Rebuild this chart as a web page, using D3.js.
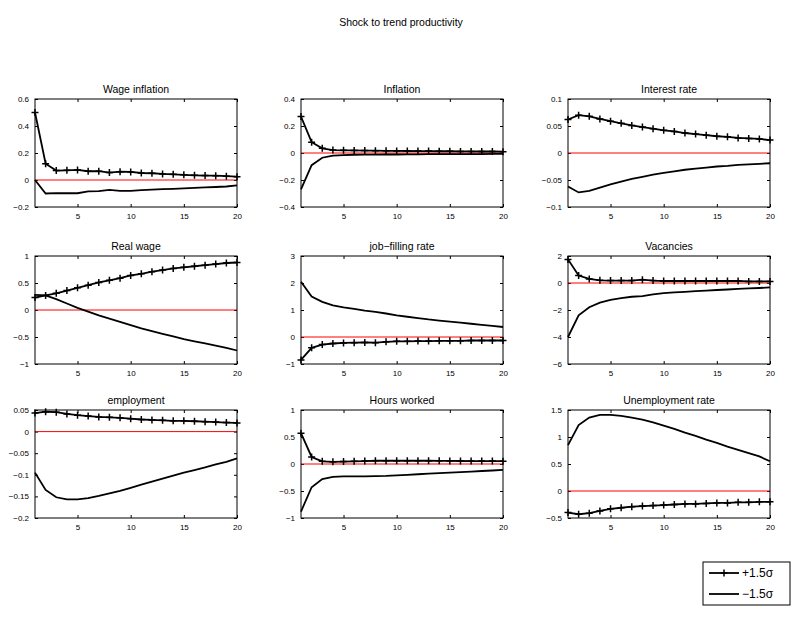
<!DOCTYPE html>
<html>
<head>
<meta charset="utf-8">
<script src="https://cdn.jsdelivr.net/npm/d3@7"></script>
<style>
  body { margin: 0; background: #fff; }
  svg { font-family: "Liberation Sans", Arial, sans-serif; }
</style>
</head>
<body>
<div id="chart"></div>
<script>
// Periods after the shock
const periods = d3.range(1, 21);
const xTicks = [5, 10, 15, 20];

// Panel titles and y ranges / ticks (row by row)
const titles = ["Wage inflation", "Inflation", "Interest rate",
                "Real wage", "job\u2212filling rate", "Vacancies",
                "employment", "Hours worked", "Unemployment rate"];
const yDomains = [[-0.2, 0.6], [-0.4, 0.4], [-0.1, 0.1],
                  [-1, 1], [-1, 3], [-6, 2],
                  [-0.2, 0.05], [-1, 1], [-0.5, 1.5]];
const yTicks = [[-0.2, 0, 0.2, 0.4, 0.6], [-0.4, -0.2, 0, 0.2, 0.4], [-0.1, -0.05, 0, 0.05, 0.1],
                [-1, -0.5, 0, 0.5, 1], [-1, 0, 1, 2, 3], [-6, -4, -2, 0, 2],
                [-0.2, -0.15, -0.1, -0.05, 0, 0.05], [-1, -0.5, 0, 0.5, 1], [-0.5, 0, 0.5, 1, 1.5]];

// +1.5 sigma responses (marked line)
const plusShock = [
  [0.50, 0.12, 0.07, 0.072, 0.075, 0.065, 0.065, 0.055, 0.062, 0.06, 0.052, 0.05, 0.045, 0.042, 0.038, 0.035, 0.033, 0.032, 0.028, 0.025],
  [0.27, 0.08, 0.035, 0.022, 0.02, 0.019, 0.018, 0.017, 0.016, 0.015, 0.015, 0.014, 0.014, 0.013, 0.013, 0.012, 0.012, 0.011, 0.011, 0.01],
  [0.062, 0.07, 0.068, 0.063, 0.059, 0.055, 0.051, 0.048, 0.045, 0.042, 0.04, 0.037, 0.035, 0.033, 0.031, 0.03, 0.028, 0.027, 0.026, 0.024],
  [0.23, 0.27, 0.31, 0.36, 0.41, 0.46, 0.51, 0.55, 0.59, 0.64, 0.67, 0.71, 0.74, 0.77, 0.79, 0.81, 0.83, 0.85, 0.87, 0.88],
  [-0.85, -0.4, -0.28, -0.24, -0.22, -0.21, -0.2, -0.21, -0.18, -0.16, -0.16, -0.15, -0.15, -0.14, -0.14, -0.14, -0.13, -0.13, -0.13, -0.13],
  [1.75, 0.55, 0.3, 0.2, 0.18, 0.18, 0.18, 0.25, 0.18, 0.15, 0.15, 0.15, 0.15, 0.15, 0.15, 0.15, 0.15, 0.12, 0.12, 0.12],
  [0.043, 0.046, 0.045, 0.041, 0.038, 0.036, 0.034, 0.033, 0.032, 0.03, 0.028, 0.027, 0.026, 0.025, 0.025, 0.024, 0.023, 0.022, 0.021, 0.02],
  [0.57, 0.13, 0.05, 0.04, 0.045, 0.05, 0.055, 0.06, 0.06, 0.06, 0.06, 0.06, 0.06, 0.058, 0.057, 0.056, 0.055, 0.055, 0.054, 0.053],
  [-0.4, -0.43, -0.41, -0.37, -0.33, -0.31, -0.29, -0.28, -0.27, -0.26, -0.25, -0.24, -0.24, -0.23, -0.22, -0.22, -0.21, -0.21, -0.2, -0.2]
];

// -1.5 sigma responses (plain line)
const minusShock = [
  [0.0, -0.1, -0.097, -0.098, -0.098, -0.085, -0.083, -0.073, -0.08, -0.08, -0.075, -0.072, -0.068, -0.065, -0.062, -0.058, -0.055, -0.052, -0.048, -0.04],
  [-0.27, -0.09, -0.035, -0.02, -0.015, -0.013, -0.012, -0.012, -0.011, -0.011, -0.01, -0.01, -0.009, -0.009, -0.009, -0.008, -0.008, -0.008, -0.007, -0.007],
  [-0.062, -0.073, -0.07, -0.064, -0.058, -0.053, -0.048, -0.044, -0.04, -0.037, -0.034, -0.031, -0.029, -0.027, -0.025, -0.024, -0.022, -0.021, -0.02, -0.019],
  [0.28, 0.27, 0.2, 0.12, 0.04, -0.03, -0.1, -0.16, -0.22, -0.28, -0.34, -0.39, -0.44, -0.49, -0.54, -0.58, -0.62, -0.66, -0.7, -0.75],
  [2.05, 1.5, 1.3, 1.17, 1.1, 1.04, 0.98, 0.93, 0.87, 0.8, 0.75, 0.7, 0.65, 0.61, 0.57, 0.53, 0.49, 0.45, 0.41, 0.37],
  [-4.0, -2.4, -1.8, -1.45, -1.25, -1.12, -1.02, -0.97, -0.85, -0.75, -0.7, -0.65, -0.6, -0.56, -0.52, -0.48, -0.44, -0.4, -0.37, -0.33],
  [-0.095, -0.135, -0.152, -0.157, -0.157, -0.154, -0.149, -0.143, -0.137, -0.13, -0.123, -0.116, -0.109, -0.102, -0.095, -0.089, -0.083, -0.076, -0.07, -0.062],
  [-0.88, -0.43, -0.28, -0.24, -0.23, -0.23, -0.23, -0.225, -0.22, -0.21, -0.2, -0.19, -0.18, -0.17, -0.16, -0.15, -0.14, -0.13, -0.12, -0.11],
  [0.85, 1.22, 1.36, 1.41, 1.41, 1.39, 1.36, 1.32, 1.27, 1.21, 1.15, 1.08, 1.02, 0.95, 0.89, 0.82, 0.76, 0.7, 0.64, 0.55]
];

const legendLabels = ["+1.5\u03c3", "\u22121.5\u03c3"];

// Layout
const W = 791, H = 637;
const colLeft = [35, 301, 568];
const rowTop = [99, 256, 410];
const pw = 202, ph = 108;

const svg = d3.select("#chart").append("svg")
    .attr("width", W)
    .attr("height", H);

svg.append("text")
    .attr("x", 401)
    .attr("y", 26)
    .attr("text-anchor", "middle")
    .style("font-size", "10.5px")
    .text("Shock to trend productivity");

const fmt = v => (v < 0 ? "\u2212" : "") + d3.format("~g")(Math.abs(v));

titles.forEach((title, i) => {
    const col = i % 3, row = Math.floor(i / 3);
    const g = svg.append("g")
        .attr("transform", `translate(${colLeft[col]},${rowTop[row]})`);

    const x = d3.scaleLinear().domain([1, 20]).range([0, pw]);
    const y = d3.scaleLinear().domain(yDomains[i]).range([ph, 0]);

    // Axes with inward ticks on all four sides
    g.append("g")
        .attr("transform", `translate(0,${ph})`)
        .call(d3.axisBottom(x).tickValues(xTicks).tickSizeInner(-3).tickSizeOuter(0).tickPadding(6));
    g.append("g")
        .call(d3.axisTop(x).tickValues(xTicks).tickSizeInner(-3).tickSizeOuter(0).tickFormat(""));
    g.append("g")
        .call(d3.axisLeft(y).tickValues(yTicks[i]).tickSizeInner(-3).tickSizeOuter(0).tickPadding(6).tickFormat(fmt));
    g.append("g")
        .attr("transform", `translate(${pw},0)`)
        .call(d3.axisRight(y).tickValues(yTicks[i]).tickSizeInner(-3).tickSizeOuter(0).tickFormat(""));

    g.selectAll(".domain").remove();
    g.selectAll(".tick line").attr("stroke", "#000");
    g.selectAll(".tick text")
        .attr("fill", "#000")
        .style("font-size", "8px")
        .style("font-family", "Liberation Sans, Arial, sans-serif");

    // Zero line
    g.append("line")
        .attr("x1", x(1)).attr("x2", x(20))
        .attr("y1", y(0)).attr("y2", y(0))
        .attr("stroke", "red")
        .attr("stroke-width", 1);

    const line = d3.line()
        .x((d, k) => x(periods[k]))
        .y(d => y(d));

    g.append("path")
        .datum(minusShock[i])
        .attr("d", line)
        .attr("fill", "none")
        .attr("stroke", "#000")
        .attr("stroke-width", 1.8);

    g.append("path")
        .datum(plusShock[i])
        .attr("d", line)
        .attr("fill", "none")
        .attr("stroke", "#000")
        .attr("stroke-width", 1.8);

    g.selectAll(".mk")
        .data(plusShock[i])
        .enter().append("path")
        .attr("class", "mk")
        .attr("transform", (d, k) => `translate(${x(periods[k])},${y(d)})`)
        .attr("d", "M-3.5,0H3.5M0,-3.5V3.5")
        .attr("stroke", "#000")
        .attr("stroke-width", 1.5);

    // Box
    g.append("rect")
        .attr("width", pw).attr("height", ph)
        .attr("fill", "none")
        .attr("stroke", "#000")
        .attr("stroke-width", 1);

    g.append("text")
        .attr("x", pw / 2)
        .attr("y", -6)
        .attr("text-anchor", "middle")
        .style("font-size", "10.5px")
        .text(title);
});

// Legend
const lg = svg.append("g").attr("transform", "translate(703,562)");
lg.append("rect")
    .attr("width", 87).attr("height", 43)
    .attr("fill", "#fff")
    .attr("stroke", "#000")
    .attr("stroke-width", 1);

legendLabels.forEach((lab, k) => {
    const yy = 11 + k * 21;
    lg.append("line")
        .attr("x1", 6).attr("x2", 36)
        .attr("y1", yy).attr("y2", yy)
        .attr("stroke", "#000")
        .attr("stroke-width", 1.8);
    if (k === 0) {
        lg.append("path")
            .attr("transform", `translate(21,${yy})`)
            .attr("d", "M-3.5,0H3.5M0,-3.5V3.5")
            .attr("stroke", "#000")
            .attr("stroke-width", 1.5);
    }
    lg.append("text")
        .attr("x", 39)
        .attr("y", yy + 4)
        .style("font-size", "12px")
        .text(lab);
});
</script>
</body>
</html>
